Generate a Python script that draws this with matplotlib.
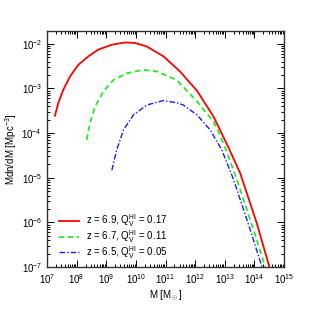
import matplotlib
matplotlib.use('Agg')
import matplotlib.pyplot as plt
import numpy as np

plt.rcParams['font.family'] = ['Liberation Sans', 'DejaVu Sans']
plt.rcParams['mathtext.fontset'] = 'custom'
plt.rcParams['mathtext.rm'] = 'Liberation Sans'
plt.rcParams['mathtext.it'] = 'Liberation Sans'

# log10(M) and log10(M dn/dM)
logm_red = [7.27, 7.38, 7.55, 7.78, 8.06, 8.40, 8.73, 9.19, 9.64, 9.97, 10.37, 10.93, 11.49,
            12.06, 12.62, 12.84, 13.13, 13.52, 14.08, 14.50, 14.58]
logy_red = [-3.61, -3.33, -3.03, -2.73, -2.47, -2.28, -2.13, -2.02, -1.97, -1.98, -2.06, -2.28, -2.62,
            -3.05, -3.63, -3.93, -4.33, -4.90, -6.02, -6.99, -7.2]

logm_green = [8.34, 8.45, 8.62, 8.90, 9.24, 9.69, 10.25, 10.71, 11.38, 12.06, 12.62, 12.79,
              13.07, 13.41, 13.97, 14.36, 14.45]
logy_green = [-4.15, -3.78, -3.41, -3.07, -2.81, -2.66, -2.58, -2.62, -2.81, -3.29, -3.74, -3.97,
              -4.42, -5.05, -6.17, -6.99, -7.2]

logm_blue = [9.19, 9.35, 9.58, 9.92, 10.37, 10.93, 11.38, 11.60, 12.06, 12.51, 12.90, 13.30,
             13.86, 14.25, 14.33]
logy_blue = [-4.83, -4.38, -3.93, -3.59, -3.37, -3.27, -3.32, -3.37, -3.59, -3.93, -4.38, -5.05,
             -6.17, -6.99, -7.2]

labels = [r'z = 6.9, Q$_V^{HI}$ = 0.17',
          r'z = 6.7, Q$_V^{HI}$ = 0.11',
          r'z = 6.5, Q$_V^{HI}$ = 0.05']

fig = plt.figure(figsize=(3.15, 3.15), dpi=100)
ax = fig.add_axes([0.149, 0.152, 0.753, 0.750])

ax.plot(10**np.array(logm_red), 10**np.array(logy_red), '-', color='#ff0000', lw=1.3, label=labels[0])
ax.plot(10**np.array(logm_green), 10**np.array(logy_green), '--', color='#22ee22', lw=1.3,
        dashes=(3, 2), label=labels[1])
ax.plot(10**np.array(logm_blue), 10**np.array(logy_blue), '-.', color='#1a1aff', lw=1.0,
        dashes=(4, 1.5, 1, 1.5), label=labels[2])

ax.set_xscale('log')
ax.set_yscale('log')
ax.set_xlim(1e7, 1e15)
ax.set_ylim(1e-7, 10**-1.71)
ax.set_xticks([10.0**k for k in range(7, 16)])
ax.set_yticks([10.0**k for k in range(-7, -1)])
ax.tick_params(which='both', direction='in', top=True, right=True, labelsize=7, width=0.7)
ax.tick_params(which='major', length=5)
ax.tick_params(which='minor', length=2.5)
for s in ax.spines.values():
    s.set_linewidth(1.0)
    s.set_color('#333333')

ax.set_xlabel(r'M [M$_\odot$]', fontsize=7, labelpad=2)
ax.set_ylabel(r'Mdn/dM [Mpc$^{-3}$]', fontsize=7, labelpad=2)

ax.legend(loc='lower left', frameon=False, fontsize=7, handlelength=2.0, handletextpad=0.8,
          bbox_to_anchor=(0.015, -0.01), labelspacing=-0.1)

fig.savefig('out.png', dpi=100)
